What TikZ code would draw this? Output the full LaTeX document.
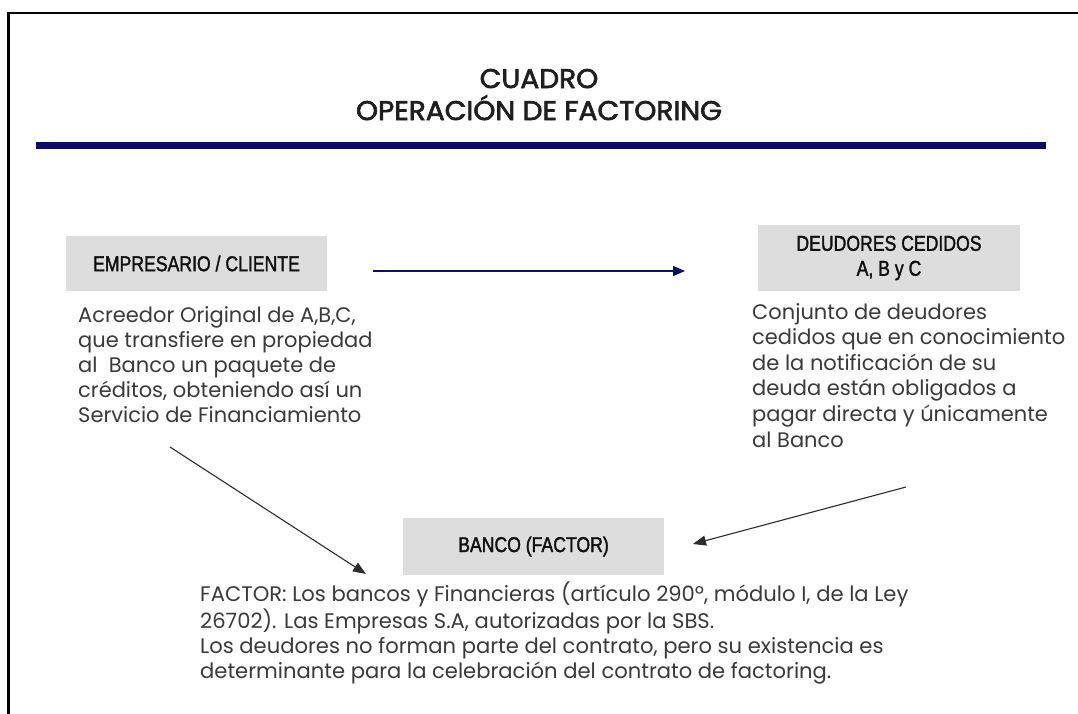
\documentclass[tikz,border=0pt]{standalone}
\usepackage{fontspec}
\setmainfont{Poppins}
\newfontfamily\bodyfont{Poppins}
\newfontfamily\titlefont[FakeBold=2.4,FakeStretch=1.04]{Poppins}
\newfontfamily\narrowfont[FakeStretch=0.82,FakeBold=1.6]{Liberation Sans}
\usetikzlibrary{arrows.meta}
\definecolor{navy}{RGB}{12,12,105}
\definecolor{boxgray}{RGB}{221,221,221}
\definecolor{bodygray}{RGB}{58,58,58}
\definecolor{arrowgray}{RGB}{45,45,45}
\definecolor{labelblack}{RGB}{15,15,15}
\tikzset{
  lbl/.style={fill=boxgray, font=\narrowfont\fontsize{21.5}{25}\selectfont, text=labelblack, inner sep=0pt, align=center, minimum width=261pt},
  para/.style={font=\bodyfont\fontsize{21}{25}\selectfont, text=bodygray, inner sep=0pt, align=left, anchor=base west},
  ttl/.style={font=\titlefont\fontsize{27}{32}\selectfont, text=black!88, inner sep=0pt, align=center, anchor=base},
  navyarrow/.style={draw=navy, line width=1.3pt, -{Triangle[length=12pt,width=10pt]}},
  grayarrow/.style={draw=arrowgray, line width=1.1pt, -{Triangle[length=13pt,width=10pt]}}
}
\begin{document}
\begin{tikzpicture}[x=1pt,y=-1pt]
\useasboundingbox (0,0) rectangle (1078,713);
\fill[white] (0,0) rectangle (1078,713);
% frame
\draw[line width=2.6pt, black] (8.7,730) -- (8.7,13) -- (1090,13);
% title (base anchor = baseline of the last line)
\node[ttl] (title) at (539,120) {CUADRO\\OPERACIÓN DE FACTORING};
\draw[navy, line width=6.5pt] (36,145.5) -- (1046,145.5);
% boxes
\node[lbl, minimum height=55pt] (emp) at (196.5,263.5) {EMPRESARIO / CLIENTE};
\node[lbl, minimum height=66pt, minimum width=262pt] (deu) at (889,258) {DEUDORES CEDIDOS\\A, B y C};
\node[lbl, minimum height=57pt] (banco) at (533.5,546.5) {BANCO (FACTOR)};
% descriptions (base anchor = baseline of the last line)
\node[para] (empdesc) at (78,422) {Acreedor Original de A,B,C,\\que transfiere en propiedad\\al\ \ Banco un paquete de\\créditos, obteniendo así un\\Servicio de Financiamiento};
\node[para, font=\bodyfont\fontsize{21}{25.6}\selectfont] (deudesc) at (752,447) {Conjunto de deudores\\cedidos que en conocimiento\\de la notificación de su\\deuda están obligados a\\pagar directa y únicamente\\al Banco};
\node[para, font=\bodyfont\fontsize{21.1}{25}\selectfont] (bancodesc) at (200,678) {FACTOR: Los bancos y Financieras (artículo 290º, módulo I, de la Ley\\26702). Las Empresas S.A, autorizadas por la SBS.\\Los deudores no forman parte del contrato, pero su existencia es\\determinante para la celebración del contrato de factoring.};
% connectors
\coordinate (a1s) at (373,271);
\coordinate (a1e) at (685,271);
\coordinate (a2s) at (170,447);
\coordinate (a2e) at (366,574);
\coordinate (a3s) at (906,487);
\coordinate (a3e) at (693,544);
\draw[navyarrow] (a1s) -- (a1e);
\draw[grayarrow] (a2s) -- (a2e);
\draw[grayarrow] (a3s) -- (a3e);
\end{tikzpicture}
\end{document}
